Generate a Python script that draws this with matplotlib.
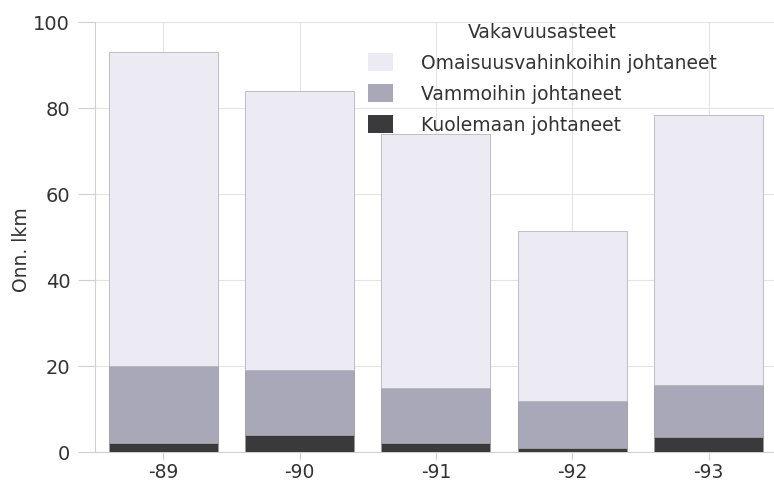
import matplotlib.pyplot as plt
import numpy as np

plt.rcParams["font.family"] = ["DejaVu Sans"]

years = ["-89", "-90", "-91", "-92", "-93"]
kuolemaan = [2.0, 4.0, 2.0, 1.0, 3.5]
vammoihin = [18.0, 15.0, 13.0, 11.0, 12.0]
omaisuus = [73.0, 65.0, 59.0, 39.5, 63.0]

labels = ["Omaisuusvahinkoihin johtaneet", "Vammoihin johtaneet", "Kuolemaan johtaneet"]
colors = ["#ecebf4", "#a9a8b9", "#3a3a3c"]


def main():
    fig = plt.figure(figsize=(7.74, 4.83), dpi=100)
    ax = fig.add_axes([0.123, 0.064, 0.877, 0.89])

    x = np.arange(len(years))
    k = np.array(kuolemaan)
    v = np.array(vammoihin)
    o = np.array(omaisuus)

    b_k = ax.bar(x, k, width=0.8, color=colors[2], edgecolor="#9a9a9a", linewidth=0.6, zorder=3)
    b_v = ax.bar(x, v, bottom=k, width=0.8, color=colors[1], edgecolor="#9a9a9a", linewidth=0.6, zorder=3)
    b_o = ax.bar(x, o, bottom=k + v, width=0.8, color=colors[0], edgecolor="#b5b5bf", linewidth=0.6, zorder=3)

    ax.set_xlim(-0.5, 4.48)
    ax.set_ylim(0, 100)
    ax.set_xticks(x)
    ax.set_xticklabels(years, fontsize=13.5, color="#333333")
    ax.set_yticks(range(0, 101, 20))
    ax.tick_params(axis="y", labelsize=14, length=12, color="#d0d0d0", labelcolor="#333333", pad=6)
    ax.tick_params(axis="x", length=6, color="#d0d0d0", pad=2)
    ax.grid(True, color="#e4e4e4", linewidth=0.8, zorder=0)
    for side in ["top", "right"]:
        ax.spines[side].set_visible(False)
    ax.spines["left"].set_color("#d0d0d0")
    ax.spines["bottom"].set_color("#d0d0d0")
    ax.set_ylabel("Onn. lkm", fontsize=13.5, color="#333333")
    ax.yaxis.set_label_coords(-0.095, 0.47)

    leg = fig.legend(
        [b_o, b_v, b_k],
        labels,
        title="Vakavuusasteet",
        loc="upper left",
        bbox_to_anchor=(0.476, 0.953),
        frameon=False,
        fontsize=13.5,
        title_fontsize=13.5,
        handlelength=1.3,
        handleheight=1.1,
        labelspacing=0.62,
        handletextpad=1.5,
        borderaxespad=0,
        borderpad=0,
    )
    for h in leg.legend_handles:
        h.set_edgecolor("none")
    for t in leg.get_texts():
        t.set_color("#333333")
    leg.get_title().set_color("#333333")

    fig.savefig("out.png", dpi=100)


if __name__ == "__main__":
    main()
